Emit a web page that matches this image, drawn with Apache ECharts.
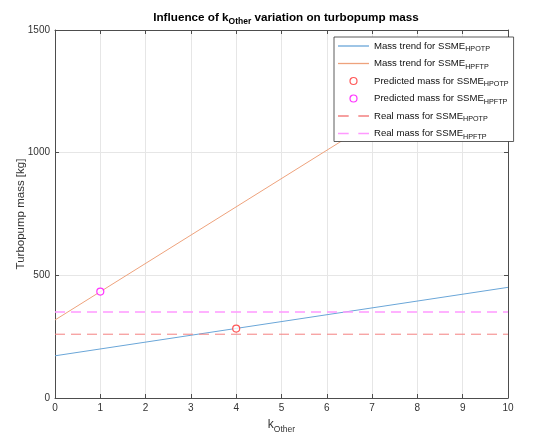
<!DOCTYPE html>
<html><head><meta charset="utf-8">
<script src="https://cdn.jsdelivr.net/npm/echarts@6/dist/echarts.min.js"></script>
<style>html,body{margin:0;padding:0;background:#fff}#c{width:541px;height:439px}</style>
</head><body><div id="c"></div>
<script>
// Data
const kRange = [0, 10];
const hpotpTrend = [172, 451];
const hpftpTrend = [318, 1471];
const hpotpPredicted = [[4, 283]];
const hpftpPredicted = [[1, 434]];
const hpotpReal = [260, 260];
const hpftpReal = [351, 351];
const xTicks = [0,1,2,3,4,5,6,7,8,9,10];
const yTicks = [0, 500, 1000, 1500];

const names = {
  a: 'Mass trend for SSME_HPOTP',
  b: 'Mass trend for SSME_HPFTP',
  c: 'Predicted mass for SSME_HPOTP',
  d: 'Predicted mass for SSME_HPFTP',
  e: 'Real mass for SSME_HPOTP',
  f: 'Real mass for SSME_HPFTP'
};
const colors = {
  a: '#6aa6d8', b: '#eea27c', c: '#ff3030', d: '#ff00ff', e: '#f48080', f: '#ff99ff'
};
const pair = (xs, ys) => xs.map((x, i) => [x, ys[i]]);
const font = 'Liberation Sans, Arial, Helvetica, sans-serif';
const axisCol = '#4d4d4d';
const solidIcon = 'path://M0,0h31v1.3h-31z';
const dashIcon = 'path://M0,0h10v1.3h-10zM19,0h10v1.3h-10z';
const lineItem = (key, icon) => ({
  name: names[key], icon: icon,
  itemStyle: {color: colors[key], borderColor: colors[key], borderWidth: 0, opacity: 1},
  lineStyle: {color: colors[key], width: 0}
});

const chart = echarts.init(document.getElementById('c'));
chart.setOption({
  animation: false,
  textStyle: {fontFamily: font},
  title: {
    text: '{m|Influence of k}{s|Other}{m| variation on turbopump mass}',
    left: 281, top: 4, textAlign: 'center',
    textStyle: {rich: {
      m: {fontSize: 11.7, fontWeight: 'bold', color: '#000', fontFamily: font},
      s: {fontSize: 8.5, fontWeight: 'bold', color: '#000', fontFamily: font, padding: [8, 0, 0, 0]}
    }}
  },
  grid: {left: 55, right: 33, top: 30, bottom: 40, show: false},
  legend: {
    orient: 'vertical', left: 334, top: 37,
    backgroundColor: '#fff', borderColor: '#333', borderWidth: 0.8,
    padding: [4, 5, 1, 4], itemGap: 5.5, itemWidth: 31, itemHeight: 7,
    symbolKeepAspect: true,
    data: [
      lineItem('a', solidIcon),
      lineItem('b', solidIcon),
      {name: names.c, icon: 'circle', itemStyle: {color: '#fff', borderColor: colors.c, borderWidth: 1.2}},
      {name: names.d, icon: 'circle', itemStyle: {color: '#fff', borderColor: colors.d, borderWidth: 1.2}},
      lineItem('e', dashIcon),
      lineItem('f', dashIcon)
    ],
    formatter: n => {
      const [main, sub] = n.split('_');
      return '{m|' + main + '}{s|' + sub + '}';
    },
    textStyle: {rich: {
      m: {fontSize: 9.6, color: '#111', fontFamily: font},
      s: {fontSize: 7.2, color: '#111', fontFamily: font, padding: [7, 0, 0, 0]}
    }}
  },
  xAxis: [{
    type: 'value', min: 0, max: 10, interval: 1,
    name: '{m|k}{s|Other}', nameLocation: 'middle', nameGap: 18,
    nameTextStyle: {rich: {
      m: {fontSize: 12, color: '#333', fontFamily: font},
      s: {fontSize: 8.5, color: '#333', fontFamily: font, padding: [9, 0, 0, 0]}
    }},
    axisLine: {onZero: false, lineStyle: {color: axisCol, width: 1}},
    axisTick: {inside: true, length: 4, lineStyle: {color: axisCol}},
    axisLabel: {fontSize: 10, color: '#333', margin: 5, formatter: v => String(v)},
    splitLine: {show: true, lineStyle: {color: '#e6e6e6', width: 1}}
  }, {
    type: 'value', min: 0, max: 10, interval: 1, position: 'top',
    axisLine: {onZero: false, lineStyle: {color: axisCol, width: 1}},
    axisTick: {inside: true, length: 4, lineStyle: {color: axisCol}},
    axisLabel: {show: false}, splitLine: {show: false}
  }],
  yAxis: [{
    type: 'value', min: 0, max: 1500, interval: 500,
    name: 'Turbopump mass [kg]', nameLocation: 'middle', nameGap: 28, nameMoveOverlap: false,
    nameTextStyle: {fontSize: 11.5, color: '#333', fontFamily: font},
    axisLine: {show: true, onZero: false, lineStyle: {color: axisCol, width: 1}},
    axisTick: {show: true, inside: true, length: 4, lineStyle: {color: axisCol}},
    axisLabel: {fontSize: 10, color: '#333', margin: 5, formatter: v => String(v)},
    splitLine: {show: true, lineStyle: {color: '#e6e6e6', width: 1}}
  }, {
    type: 'value', min: 0, max: 1500, interval: 500, position: 'right',
    axisLine: {show: true, onZero: false, lineStyle: {color: axisCol, width: 1}},
    axisTick: {show: true, inside: true, length: 4, lineStyle: {color: axisCol}},
    axisLabel: {show: false}, splitLine: {show: false}
  }],
  series: [
    {name: names.a, type: 'line', data: pair(kRange, hpotpTrend), symbol: 'none',
     color: colors.a, lineStyle: {width: 1, color: colors.a}},
    {name: names.b, type: 'line', data: pair(kRange, hpftpTrend), symbol: 'none',
     color: colors.b, lineStyle: {width: 1, color: colors.b}},
    {name: names.c, type: 'scatter', data: hpotpPredicted, symbol: 'circle', symbolSize: 7,
     color: colors.c, itemStyle: {color: '#fff', borderColor: colors.c, borderWidth: 1.2}, z: 5},
    {name: names.d, type: 'scatter', data: hpftpPredicted, symbol: 'circle', symbolSize: 7,
     color: colors.d, itemStyle: {color: '#fff', borderColor: colors.d, borderWidth: 1.2}, z: 5},
    {name: names.e, type: 'line', data: pair(kRange, hpotpReal), symbol: 'none',
     color: colors.e, lineStyle: {width: 1, color: colors.e, type: [10, 6]}},
    {name: names.f, type: 'line', data: pair(kRange, hpftpReal), symbol: 'none',
     color: colors.f, lineStyle: {width: 1.5, color: colors.f, type: [10, 6]}}
  ]
});
</script></body></html>
